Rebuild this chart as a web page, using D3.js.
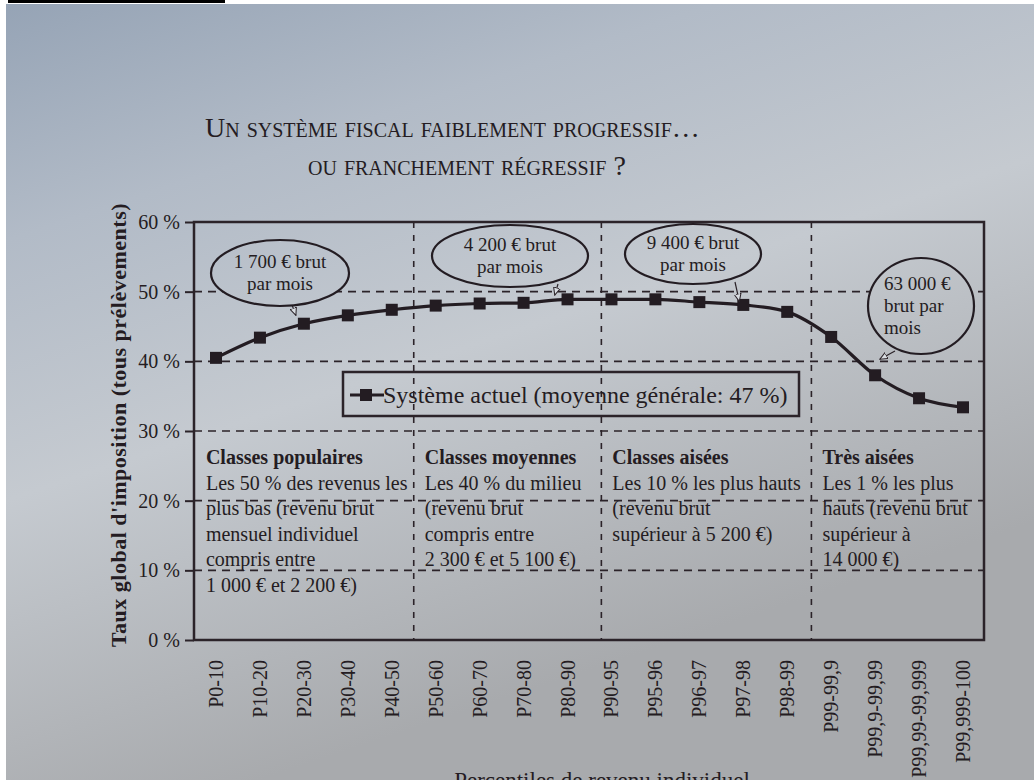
<!DOCTYPE html>
<html lang="fr">
<head>
<meta charset="UTF-8">
<title>Un système fiscal faiblement progressif</title>
<style>
  html, body { margin: 0; padding: 0; }
  body { width: 1034px; height: 780px; overflow: hidden; }
  text { font-family: "Liberation Serif", "DejaVu Serif", serif; fill: #241c22; }
  .grid { stroke: #2b2329; stroke-width: 1.6; fill: none; }
</style>
</head>
<body>
<script src="https://cdn.jsdelivr.net/npm/d3@7"></script>
<script>
// percentiles of individual income
const categories = ["P0-10", "P10-20", "P20-30", "P30-40", "P40-50", "P50-60", "P60-70",
  "P70-80", "P80-90", "P90-95", "P95-96", "P96-97", "P97-98", "P98-99", "P99-99,9",
  "P99,9-99,99", "P99,99-99,999", "P99,999-100"]
// taux global d'imposition, %
const rates = [40.5, 43.4, 45.4, 46.6, 47.4, 48.0, 48.3, 48.4, 48.9, 48.9, 48.9, 48.5,
  48.1, 47.1, 43.5, 38.0, 34.7, 33.4]
const yTicks = [0, 10, 20, 30, 40, 50, 60]
const seriesName = "Système actuel (moyenne générale: 47 %)"

const groupTitles = ["Classes populaires", "Classes moyennes", "Classes aisées", "Très aisées"]
const groupLines = [
  ["Les 50 % des revenus les", "plus bas (revenu brut", "mensuel individuel", "compris entre", "1 000 € et 2 200 €)"],
  ["Les 40 % du milieu", "(revenu brut", "compris entre", "2 300 € et 5 100 €)"],
  ["Les 10 % les plus hauts", "(revenu brut", "supérieur à 5 200 €)"],
  ["Les 1 % les plus", "hauts (revenu brut", "supérieur à", "14 000 €)"]
]
// where each group starts (index between two percentiles)
const groupStarts = [-0.48, 4.5, 8.77, 13.55]

const callouts = [
  ["1 700 € brut", "par mois"],
  ["4 200 € brut", "par mois"],
  ["9 400 € brut", "par mois"],
  ["63 000 €", "brut par", "mois"]
]

const width = 1034, height = 780
const frame = {left: 194, right: 984, top: 222, bottom: 640}

const svg = d3.select("body").append("svg")
  .attr("width", width)
  .attr("height", height)

// photo-like paper background
const defs = svg.append("defs")
const grad = defs.append("linearGradient").attr("id", "paper")
  .attr("gradientUnits", "userSpaceOnUse")
  .attr("x1", 0).attr("y1", 0).attr("x2", 260).attr("y2", 780)
grad.append("stop").attr("offset", "0%").attr("stop-color", "#95a3b5")
grad.append("stop").attr("offset", "28%").attr("stop-color", "#b2bbc7")
grad.append("stop").attr("offset", "58%").attr("stop-color", "#c5cad0")
grad.append("stop").attr("offset", "100%").attr("stop-color", "#a8aaad")
defs.append("marker").attr("id", "tip")
  .attr("viewBox", "0 0 10 10").attr("refX", 9).attr("refY", 5)
  .attr("markerWidth", 7).attr("markerHeight", 7).attr("orient", "auto")
  .append("path").attr("d", "M0,1 L9,5 L0,9 Z")
  .attr("fill", "#d9dde2").attr("stroke", "#2b2329").attr("stroke-width", 1.2)

svg.append("rect").attr("width", width).attr("height", height).attr("fill", "#ffffff")
svg.append("rect").attr("x", 6).attr("y", 4).attr("width", width - 6).attr("height", height - 4)
  .attr("fill", "url(#paper)")
svg.append("rect").attr("x", 8).attr("y", 0).attr("width", 217).attr("height", 3).attr("fill", "#000")

const y = d3.scaleLinear().domain([0, 60]).range([frame.bottom, frame.top])
const xi = d3.scaleLinear().domain([0, 17]).range([216, 963])
const x = c => xi(categories.indexOf(c))

// title
const title = svg.append("g").style("font-variant", "small-caps").style("font-size", "28px")
title.append("text").attr("x", 205).attr("y", 137).text("Un système fiscal faiblement progressif…")
title.append("text").attr("x", 308).attr("y", 175).text("ou franchement régressif ?")

// horizontal dashed grid
svg.append("g").selectAll("line")
  .data(yTicks.filter(d => d > 0 && d < 60))
  .join("line")
    .attr("class", "grid")
    .attr("x1", frame.left).attr("x2", frame.right)
    .attr("y1", d => y(d)).attr("y2", d => y(d))
    .attr("stroke-dasharray", "8,6")

// vertical group separators
svg.append("g").selectAll("line")
  .data(groupStarts.slice(1))
  .join("line")
    .attr("class", "grid")
    .attr("x1", d => xi(d)).attr("x2", d => xi(d))
    .attr("y1", frame.top).attr("y2", frame.bottom)
    .attr("stroke-dasharray", "6,7")

// frame
svg.append("rect")
  .attr("x", frame.left).attr("y", frame.top)
  .attr("width", frame.right - frame.left).attr("height", frame.bottom - frame.top)
  .attr("fill", "none").attr("stroke", "#2b2329").attr("stroke-width", 2.5)

// y axis
const yAxis = svg.append("g")
  .attr("transform", `translate(${frame.left},0)`)
  .call(d3.axisLeft(y).tickValues(yTicks).tickFormat(d => d + " %").tickSize(9).tickPadding(5))
yAxis.select(".domain").remove()
yAxis.selectAll(".tick line").attr("stroke", "#2b2329").attr("stroke-width", 2)
yAxis.selectAll(".tick text")
  .attr("font-family", null)
  .style("font-size", "20px")
  .attr("fill", null)

svg.append("text")
  .attr("transform", `translate(126,${(frame.top + frame.bottom) / 2 - 6}) rotate(-90)`)
  .attr("text-anchor", "middle")
  .style("font-size", "22px").style("font-weight", "bold").style("letter-spacing", "0.5px")
  .text("Taux global d'imposition (tous prélèvements)")

// x labels
svg.append("g").selectAll("text")
  .data(categories)
  .join("text")
    .attr("transform", d => `translate(${x(d) + 7},${frame.bottom + 20}) rotate(-90)`)
    .attr("text-anchor", "end")
    .style("font-size", "20px")
    .text(d => d)

svg.append("text")
  .attr("x", 602).attr("y", 788)
  .attr("text-anchor", "middle")
  .style("font-size", "23px")
  .text("Percentiles de revenu individuel")

// group descriptions
const groups = svg.append("g").selectAll("g")
  .data(groupTitles)
  .join("g")
    .attr("transform", (d, i) => `translate(${xi(groupStarts[i]) + 11},${y(30) + 33})`)
groups.append("text")
  .style("font-size", "20px").style("font-weight", "bold")
  .text(d => d)
groups.each(function(d, i) {
  d3.select(this).selectAll("text.line")
    .data(groupLines[i])
    .join("text")
      .attr("class", "line")
      .attr("y", (t, j) => (j + 1) * 25.5)
      .style("font-size", "20px")
      .text(t => t)
})

// series line
const line = d3.line()
  .x((d, i) => xi(i))
  .y(d => y(d))
  .curve(d3.curveMonotoneX)
svg.append("path")
  .datum(rates)
  .attr("d", line)
  .attr("fill", "none").attr("stroke", "#231c22").attr("stroke-width", 3.2)
svg.append("g").selectAll("rect")
  .data(rates)
  .join("rect")
    .attr("x", (d, i) => xi(i) - 6).attr("y", d => y(d) - 6)
    .attr("width", 12).attr("height", 12)
    .attr("fill", "#231c22")

// legend
const legend = svg.append("g")
legend.append("rect")
  .attr("x", 343).attr("y", 372).attr("width", 456).attr("height", 44)
  .attr("fill", "none").attr("stroke", "#2b2329").attr("stroke-width", 2.5)
legend.append("line")
  .attr("x1", 350).attr("x2", 384).attr("y1", 395).attr("y2", 395)
  .attr("stroke", "#231c22").attr("stroke-width", 3.2)
legend.append("rect")
  .attr("x", 360).attr("y", 389).attr("width", 12).attr("height", 12).attr("fill", "#231c22")
legend.append("text")
  .attr("x", 383).attr("y", 403)
  .style("font-size", "24px")
  .text(seriesName)

// callout bubbles: centre, radii, pointer start and target point
const bubbles = [
  {cx: 280, cy: 273, rx: 69, ry: 33, from: [292, 305], to: [2, 46.6]},
  {cx: 510, cy: 256, rx: 78, ry: 31, from: [558, 284], to: [7.8, 49.5]},
  {cx: 693, cy: 254, rx: 68, ry: 30, from: [735, 282], to: [12, 48.6]},
  {cx: 921, cy: 306, rx: 53, ry: 48, from: [895, 351], to: [15.2, 40.3]}
]
const bubble = svg.append("g").selectAll("g")
  .data(bubbles)
  .join("g")
bubble.append("line")
  .attr("x1", d => d.from[0]).attr("y1", d => d.from[1])
  .attr("x2", d => xi(d.to[0]) - (d.to[0] === 2 ? 8 : 4))
  .attr("y2", d => y(d.to[1]))
  .attr("stroke", "#2b2329").attr("stroke-width", 1.2)
  .attr("marker-end", "url(#tip)")
bubble.append("ellipse")
  .attr("cx", d => d.cx).attr("cy", d => d.cy)
  .attr("rx", d => d.rx).attr("ry", d => d.ry)
  .attr("fill", "url(#paper)").attr("stroke", "#231c22").attr("stroke-width", 2.2)
bubble.each(function(d, i) {
  const lines = callouts[i]
  const left = i === 3
  d3.select(this).selectAll("text")
    .data(lines)
    .join("text")
      .attr("x", left ? d.cx - 37 : d.cx)
      .attr("y", (t, j) => d.cy - (lines.length - 1) * 11 + j * 22 + 6)
      .attr("text-anchor", left ? "start" : "middle")
      .style("font-size", "19px")
      .text(t => t)
})
</script>
</body>
</html>
